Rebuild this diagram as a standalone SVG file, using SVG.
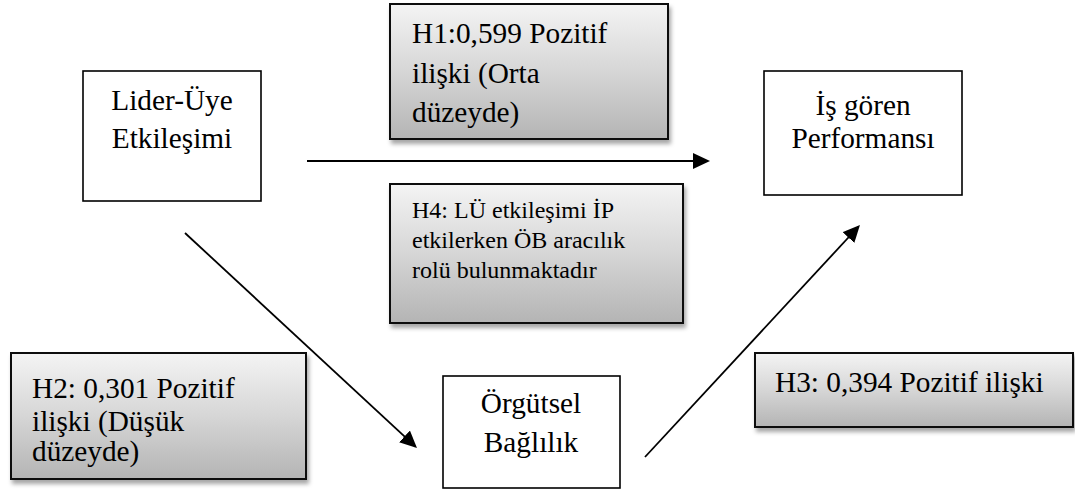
<svg xmlns="http://www.w3.org/2000/svg" width="1075" height="493" viewBox="0 0 1075 493">
<style>
.node{fill:#fff;stroke:#000;stroke-width:1.6}
.lbl{fill:url(#g);stroke:#111;stroke-width:2;filter:url(#sh)}
text{fill:#000;font-size:29.3px}
.c{text-anchor:middle}
.s{font-size:24px}
.edge{fill:none;stroke:#000;stroke-width:1.8}
</style>
<defs>
<linearGradient id="g" x1="0" y1="0" x2="0" y2="1">
<stop offset="0" stop-color="#f4f4f4"/>
<stop offset="0.5" stop-color="#d6d6d6"/>
<stop offset="1" stop-color="#b4b4b4"/>
</linearGradient>
<filter id="sh" x="-10%" y="-10%" width="130%" height="140%">
<feDropShadow dx="2" dy="4" stdDeviation="2" flood-color="#000" flood-opacity="0.35"/>
</filter>
<marker id="ah" markerUnits="userSpaceOnUse" markerWidth="18" markerHeight="18" refX="15" refY="8" orient="auto">
<path d="M0,0 L17,8 L0,16 z" fill="#000"/>
</marker>
</defs>
<g id="edges">
<path class="edge" d="M307,161 L708,161" marker-end="url(#ah)"/>
<path class="edge" d="M185,233 L415.5,446.6" marker-end="url(#ah)"/>
<path class="edge" d="M645,457 L858.6,226.5" marker-end="url(#ah)"/>
</g>
<g font-family="Liberation Serif, Times New Roman, DejaVu Serif, serif">
<g id="lider-uye">
<rect class="node" x="83" y="71" width="178" height="130"/>
<text class="c" x="172" y="110">Lider-Üye</text>
<text class="c" x="172" y="148">Etkileşimi</text>
</g>
<g id="is-goren">
<rect class="node" x="764" y="71" width="198" height="124"/>
<text class="c" x="863" y="115">İş gören</text>
<text class="c" x="863" y="148">Performansı</text>
</g>
<g id="orgutsel">
<rect class="node" x="443" y="376" width="177" height="112"/>
<text class="c" x="531" y="413">Örgütsel</text>
<text class="c" x="531" y="452">Bağlılık</text>
</g>
<g id="h1">
<rect class="lbl" x="390" y="4" width="278" height="135"/>
<text x="412" y="43">H1:0,599 Pozitif</text>
<text x="412" y="83">ilişki (Orta</text>
<text x="412" y="122">düzeyde)</text>
</g>
<g id="h4">
<rect class="lbl" x="390" y="184" width="293" height="139"/>
<text class="s" x="412" y="218">H4: LÜ etkileşimi İP</text>
<text class="s" x="412" y="248">etkilerken ÖB aracılık</text>
<text class="s" x="412" y="278">rolü bulunmaktadır</text>
</g>
<g id="h2">
<rect class="lbl" x="11" y="353" width="295" height="126"/>
<text x="32" y="398">H2: 0,301 Pozitif</text>
<text x="32" y="431">ilişki (Düşük</text>
<text x="32" y="461">düzeyde)</text>
</g>
<g id="h3">
<rect class="lbl" x="755" y="353" width="318" height="74"/>
<text x="775" y="392">H3: 0,394 Pozitif ilişki</text>
</g>
</g>
</svg>
